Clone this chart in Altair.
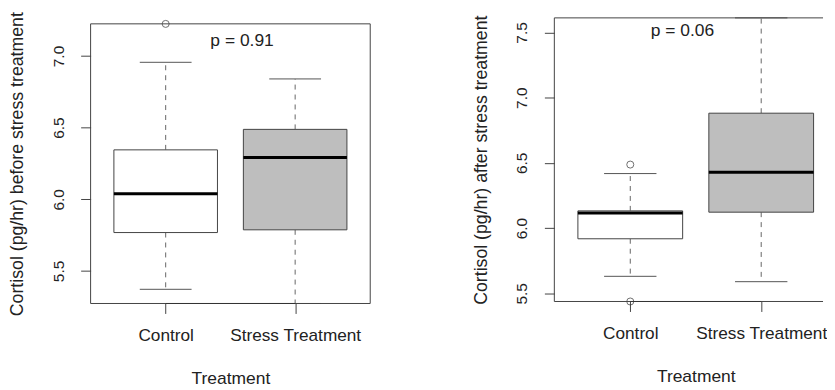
import json
import altair as alt
import pandas as pd

# ---------------- data ----------------
categories = ["Control", "Stress Treatment"]
box_fills = ["#FFFFFF", "#BEBEBE"]

# Panel 1: cortisol before stress treatment
before_lower = [5.372, 5.273]
before_q1 = [5.768, 5.787]
before_median = [6.039, 6.292]
before_q3 = [6.345, 6.488]
before_upper = [6.956, 6.840]
before_out_group = ["Control"]
before_out_value = [7.224]
before_p = "p = 0.91"
before_ticks = [5.5, 6.0, 6.5, 7.0]

# Panel 2: cortisol after stress treatment
after_lower = [5.630, 5.589]
after_q1 = [5.918, 6.122]
after_median = [6.115, 6.428]
after_q3 = [6.132, 6.881]
after_upper = [6.418, 7.612]
after_out_group = ["Control", "Control"]
after_out_value = [6.487, 5.437]
after_p = "p = 0.06"
after_ticks = [5.5, 6.0, 6.5, 7.0, 7.5]

# ---------------- style ----------------
FONT = "Liberation Sans"
TXT = "#222222"
FRAME = "#444444"
BOX_HALF = 0.4
CAP_HALF = 0.2

label_expr = json.dumps(categories) + "[round(datum.value) - 1]"


def panel(lower, q1, med, q3, upper, out_g, out_v, ticks, ytitle, ptext,
          p_x, p_y, xdom, ydom, w, h, frame_top, right_edge):
    pos = list(range(1, len(categories) + 1))
    df = pd.DataFrame({
        "cat": categories, "pos": pos, "lower": lower, "q1": q1,
        "median": med, "q3": q3, "upper": upper, "fill": box_fills,
    })
    df["left"] = df["pos"] - BOX_HALF
    df["right"] = df["pos"] + BOX_HALF
    df["capl"] = df["pos"] - CAP_HALF
    df["capr"] = df["pos"] + CAP_HALF
    odf = pd.DataFrame({"cat": out_g, "value": out_v})
    odf["pos"] = odf["cat"].map({c: i + 1 for i, c in enumerate(categories)})

    xs = alt.Scale(domain=xdom, nice=False, zero=False)
    ys = alt.Scale(domain=ydom, nice=False, zero=False)
    xaxis = alt.Axis(values=pos, labelExpr=label_expr, title="Treatment",
                     grid=False, domain=False, tickSize=10, tickColor=FRAME,
                     labelFontSize=17.3, labelPadding=13, labelColor=TXT,
                     titleFontSize=17.5, titleFontWeight="normal",
                     titleColor=TXT, titlePadding=26, labelFlush=False,
                     titleX=(1.5 - xdom[0]) / (xdom[1] - xdom[0]) * w)
    yaxis = alt.Axis(values=ticks, format=".1f", title=ytitle, grid=False,
                     domain=False, tickSize=10, tickColor=FRAME,
                     labelAngle=270, labelAlign="center",
                     labelBaseline="bottom", labelPadding=14.5,
                     labelFontSize=15.5, labelColor=TXT,
                     titleFontSize=17.8, titleFontWeight="normal",
                     titleColor=TXT, titlePadding=25,
                     titleY=(frame_top + h) / 2)

    def X(f):
        return alt.X(f, type="quantitative", scale=xs, axis=xaxis)

    def Y(f):
        return alt.Y(f, type="quantitative", scale=ys, axis=yaxis)

    base = alt.Chart(df)
    wh_up = base.mark_rule(color="#666666", strokeDash=[5, 5]).encode(
        x=X("pos"), y=Y("q3"), y2="upper")
    wh_lo = base.mark_rule(color="#666666", strokeDash=[5, 5]).encode(
        x=X("pos"), y=Y("q1"), y2="lower")
    cap_up = base.mark_rule(color="#555555").encode(
        x=X("capl"), x2="capr", y=Y("upper"))
    cap_lo = base.mark_rule(color="#555555").encode(
        x=X("capl"), x2="capr", y=Y("lower"))
    boxes = base.mark_rect(stroke=FRAME, strokeWidth=1).encode(
        x=X("left"), x2="right", y=Y("q1"), y2="q3",
        fill=alt.Fill("fill:N", scale=None))
    meds = base.mark_rule(color="#000000", strokeWidth=3).encode(
        x=X("left"), x2="right", y=Y("median"))
    outs = alt.Chart(odf).mark_point(shape="circle", filled=False, size=50,
                                     color="#333333", strokeWidth=1).encode(
        x=X("pos"), y=Y("value"))
    ptxt = alt.Chart(pd.DataFrame({"t": [ptext]})).mark_text(
        fontSize=17.5, color=TXT, font=FONT).encode(
        x=alt.X(datum=p_x, type="quantitative", scale=xs, axis=xaxis),
        y=alt.Y(datum=p_y, type="quantitative", scale=ys, axis=yaxis),
        text="t:N")
    # R's x axis line, drawn between the first and last tick
    axline = base.mark_rule(color="#333333").encode(
        x=alt.X("min(pos):Q", scale=xs, axis=xaxis), x2="max(pos):Q",
        y=alt.value(h))
    one = pd.DataFrame({"a": [0]})
    frame = [
        alt.Chart(one).mark_rule(color=FRAME).encode(
            x=alt.value(0), x2=alt.value(w), y=alt.value(frame_top)),
        alt.Chart(one).mark_rule(color=FRAME).encode(
            x=alt.value(0), x2=alt.value(w), y=alt.value(h)),
        alt.Chart(one).mark_rule(color=FRAME).encode(
            x=alt.value(0), y=alt.value(frame_top), y2=alt.value(h)),
    ]
    if right_edge:
        frame.append(alt.Chart(one).mark_rule(color=FRAME).encode(
            x=alt.value(w), y=alt.value(frame_top), y2=alt.value(h)))
    return alt.layer(wh_up, wh_lo, cap_up, cap_lo, boxes, meds, outs, ptxt,
                     *frame, axline).properties(width=w, height=h)


left = panel(before_lower, before_q1, before_median, before_q3, before_upper,
             before_out_group, before_out_value, before_ticks,
             "Cortisol (pg/hr) before stress treatment", before_p,
             1.59, 7.106, [0.42, 2.58], [5.273, 7.266], 281, 287, 6, True)
right = panel(after_lower, after_q1, after_median, after_q3, after_upper,
              after_out_group, after_out_value, after_ticks,
              "Cortisol (pg/hr) after stress treatment", after_p,
              1.398, 7.508, [0.42, 2.472], [5.437, 7.612], 270, 285, 0, False)

chart = alt.hconcat(left, right, spacing=101,
                    padding={"left": 0, "top": 2, "right": 0, "bottom": 0}
                    ).configure(font=FONT).configure_view(stroke=None)

chart.save("out.html", embed_options={"renderer": "svg", "actions": False})
